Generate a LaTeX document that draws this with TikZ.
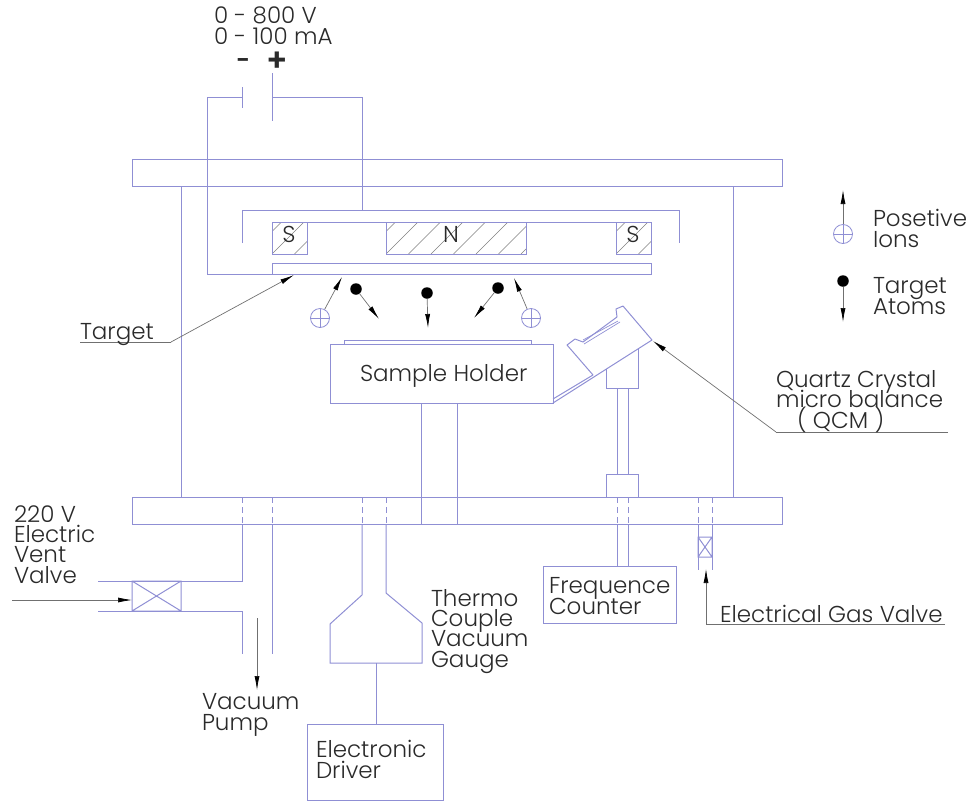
\documentclass[tikz,border=0pt]{standalone}
\usepackage{fontspec}
\setmainfont{Poppins Light}
\usetikzlibrary{arrows.meta,patterns}
\AtBeginDocument{\lineskiplimit=-100pt\relax}
\definecolor{wire}{HTML}{8F8FD4}
\definecolor{ink}{HTML}{2A2A2A}
\definecolor{lead}{HTML}{707070}
\tikzset{
  x=1pt,y=-1pt,
  wire/.style={draw=wire,line width=1pt},
  dashwire/.style={draw=wire,line width=0.8pt,dash pattern=on 6pt off 4pt},
  leader/.style={draw=lead,line width=0.7pt,-{Latex[length=14pt,width=5pt,black]}},
  plain lead/.style={draw=lead,line width=0.7pt},
  lbl/.style={anchor=base west,inner sep=0pt,outer sep=0pt,text=ink,align=left,font=\fontsize{23}{20.2}\selectfont},
  boxnode/.style={wire,inner sep=0pt,outer sep=0pt,anchor=north west},
  atom/.style={circle,fill=black,inner sep=0pt,minimum size=11.5pt},
  ion/.style={circle,draw=wire,line width=0.8pt,inner sep=0pt,minimum size=19pt},
}
\newcommand{\hatchbox}[4]{%
  \begin{scope}
    \clip (#1,#2) rectangle (#3,#4);
    \foreach \k in {-4,...,10}{
      \draw[draw=gray,line width=0.5pt] ({#1+\k*22.5},#4) -- ++(32,-32);
    }
  \end{scope}
  \draw[wire] (#1,#2) rectangle (#3,#4);
}
\newcommand{\ionmark}[2]{%
  \draw[draw=wire,line width=0.7pt] (#1,#2) ++(-9.5,0) -- ++(19,0) (#1,#2) ++(0,-9.5) -- ++(0,19);
}
\begin{document}
\begin{tikzpicture}
\useasboundingbox (0,0) rectangle (968,801);
% plates and chamber
\draw[wire] (132,159) rectangle (782,186);
\draw[wire] (132,497) rectangle (782,524);
\draw[wire] (181,186) -- (181,497) (733,186) -- (733,497);
% magnet yoke
\draw[wire] (242,243) -- (242,210) -- (679,210) -- (679,243);
\draw[wire] (307,222) -- (386,222) (526,222) -- (616,222);
\hatchbox{272}{222}{307}{254}
\hatchbox{386}{222}{526}{254}
\hatchbox{616}{222}{651}{254}
% target
\draw[wire] (272,263) rectangle (651,274);
% power supply
\coordinate (minus) at (242,97);
\coordinate (plus) at (272,97);
\draw[wire] (242,87) -- (242,108);
\draw[wire] (272,73) -- (272,121);
\draw[wire] (minus) -- (207,97) -- (207,274) -- (272,274);
\draw[wire] (plus) -- (362,97) -- (362,210);
% sample holder
\node[boxnode,minimum width=223pt,minimum height=59pt] (holder) at (330,344) {};
\draw[wire] (344,344) -- (344,340) -- (531,340) -- (531,344);
\draw[wire] (421,403) -- (421,524) (457,403) -- (457,524);
% QCM
\draw[wire,line join=round] (553,403) -- (652,340) -- (623,306) -- (616,309) -- (617,317) -- (583,342) -- (575,339) -- (567,345) -- (593,375);
\draw[wire] (553,399) -- (593,375);
\draw[wire,line width=0.7pt] (583,340) -- (618,321) (584,344) -- (620,322);
\draw[wire] (606,369) -- (606,388) -- (638,388) -- (638,349);
\draw[wire] (617,388) -- (617,474) (628,388) -- (628,474);
\draw[wire] (606,497) -- (606,474) -- (638,474) -- (638,497);
% freq counter
\node[boxnode,minimum width=133pt,minimum height=57pt] (freq) at (543,566) {};
\draw[dashwire] (617,497) -- (617,524) (628,497) -- (628,524);
\draw[wire] (617,524) -- (617,566) (628,524) -- (628,566);
% gas valve
\draw[dashwire] (698,497) -- (698,524) (712,497) -- (712,524);
\draw[wire] (698,524) -- (698,570) (712,524) -- (712,570);
\draw[wire] (698,537) rectangle (712,557) (698,537) -- (712,557) (712,537) -- (698,557);
\coordinate (gasa) at (945,624);
\coordinate (gasb) at (706,624);
\coordinate (gasc) at (706,569);
\draw[plain lead] (gasa) -- (gasb);
\draw[leader] (gasb) -- (gasc);
% vacuum pipe
\draw[dashwire] (242,497) -- (242,524) (272,497) -- (272,524);
\draw[wire] (242,524) -- (242,581) -- (98,581);
\draw[wire] (98,611) -- (242,611) -- (242,654);
\draw[wire] (272,524) -- (272,654);
\draw[wire] (132,581) rectangle (181,611) (132,581) -- (181,611) (181,581) -- (132,611);
\coordinate (vents) at (12,600);
\coordinate (ventt) at (132,600);
\draw[leader] (vents) -- (ventt);
\coordinate (pumps) at (257,618);
\coordinate (pumpt) at (257,690);
\draw[leader] (pumps) -- (pumpt);
% gauge
\draw[dashwire] (362,497) -- (362,524) (386,497) -- (386,524);
\draw[wire] (362,524) -- (362,595) -- (330,624) -- (330,663) -- (422,663) -- (422,623) -- (386,593) -- (386,524);
\node[boxnode,minimum width=136pt,minimum height=76pt] (driver) at (307,724) {};
\draw[wire] (376,663) -- (376,724);
% particles
\node[ion] (i1) at (320,318) {}; \ionmark{320}{318}
\node[ion] (i2) at (531,318) {}; \ionmark{531}{318}
\node[atom] (a1) at (356,289) {};
\node[atom] (a2) at (427,293) {};
\node[atom] (a3) at (498,288) {};
\coordinate (i1t) at (342,277);
\coordinate (i2t) at (514,278);
\coordinate (a1t) at (379,319);
\coordinate (a2t) at (428,328);
\coordinate (a3t) at (474,318);
\draw[leader] (i1) -- (i1t);
\draw[leader] (i2) -- (i2t);
\draw[leader] (a1) -- (a1t);
\draw[leader] (a2) -- (a2t);
\draw[leader] (a3) -- (a3t);
% legend
\node[ion] (li) at (843,234) {}; \ionmark{843}{234}
\node[atom] (la) at (843,281) {};
\coordinate (lit) at (843,190);
\coordinate (lat) at (843,322);
\draw[leader] (li) -- (lit);
\draw[leader] (la) -- (lat);
% leaders
\coordinate (tga) at (80,342);
\coordinate (tgb) at (171,342);
\coordinate (tgc) at (294,275);
\draw[plain lead] (tga) -- (tgb);
\draw[leader] (tgb) -- (tgc);
\coordinate (qa) at (948,432);
\coordinate (qb) at (776,432);
\coordinate (qc) at (653,341);
\draw[plain lead] (qa) -- (qb);
\draw[leader] (qb) -- (qc);
% labels
\node[lbl] (tv) at (214,44) {0 - 800 V\\0 - 100 mA};
\node[lbl,font=\fontsize{24}{24}\selectfont\bfseries] (tm) at (236,68) {-};
\node[lbl,font=\fontsize{32}{32}\selectfont\bfseries] (tp) at (266,71) {+};
\node[lbl,anchor=base] (sl) at (289,242) {S};
\node[lbl,anchor=base] (nl) at (451,242) {N};
\node[lbl,anchor=base] (sr) at (633,242) {S};
\node[lbl] (sh) at (360,381) {Sample Holder};
\node[lbl] (tg) at (80,339) {Target};
\node[lbl] (pi) at (873,247) {Posetive\\Ions};
\node[lbl] (ta) at (873,314) {Target\\Atoms};
\node[lbl] (qz) at (776,428) {Quartz Crystal\\micro balance\\\hspace*{21pt}( QCM )};
\node[lbl] (ev) at (14,583) {220 V\\Electric\\Vent\\Valve};
\node[lbl] (tc) at (431,667) {Thermo\\Couple\\Vacuum\\Gauge};
\node[lbl] (fc) at (549,614) {Frequence\\Counter};
\node[lbl] (eg) at (720,622) {Electrical Gas Valve};
\node[lbl] (vp) at (202,730) {Vacuum\\Pump};
\node[lbl] (ed) at (316,778) {Electronic\\Driver};
\end{tikzpicture}
\end{document}
